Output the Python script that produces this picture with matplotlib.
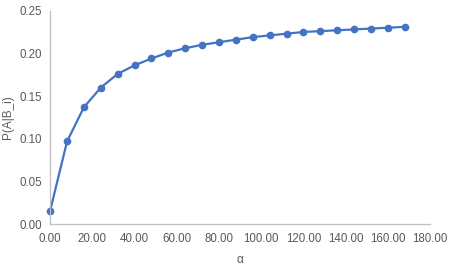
import matplotlib.pyplot as plt

# --- DATA ---
alpha = [0, 8, 16, 24, 32, 40, 48, 56, 64, 72, 80, 88, 96, 104, 112,
         120, 128, 136, 144, 152, 160, 168]
p_ab = [0.016, 0.097, 0.137, 0.160, 0.176, 0.186, 0.194, 0.201, 0.206,
        0.210, 0.213, 0.216, 0.219, 0.221, 0.223, 0.225, 0.226, 0.227,
        0.228, 0.229, 0.230, 0.231]
x_ticks = list(range(0, 181, 20))
y_ticks = [0.0, 0.05, 0.10, 0.15, 0.20, 0.25]

plt.rcParams['font.family'] = ['Liberation Sans', 'DejaVu Sans']
grey = '#595959'

fig = plt.figure(figsize=(4.56, 2.72), dpi=100)
ax = fig.add_axes([0.110, 0.175, 0.833, 0.786])

ax.plot(alpha, p_ab, color='#4472C4', lw=1.6, marker='o', ms=4.5,
        markeredgecolor='#4472C4', markerfacecolor='#4472C4', clip_on=False)

ax.set_xlim(0, 180)
ax.set_ylim(0, 0.25)
ax.set_xticks(x_ticks)
ax.set_xticklabels([f"{v:.2f}" for v in x_ticks])
ax.set_yticks(y_ticks)
ax.set_yticklabels([f"{v:.2f}" for v in y_ticks])
ax.tick_params(length=0, labelsize=8.3, colors=grey, pad=6)

for s in ['top', 'right']:
    ax.spines[s].set_visible(False)
for s in ['left', 'bottom']:
    ax.spines[s].set_color('#BFBFBF')
    ax.spines[s].set_linewidth(0.9)

ax.set_xlabel("α", fontsize=8.5, color=grey, labelpad=7)
fig.text(8 / 456, 0.568, "P(A|B_i)", fontsize=8.5, color=grey,
         rotation=90, ha='center', va='center')

fig.savefig("out.png", dpi=100)
